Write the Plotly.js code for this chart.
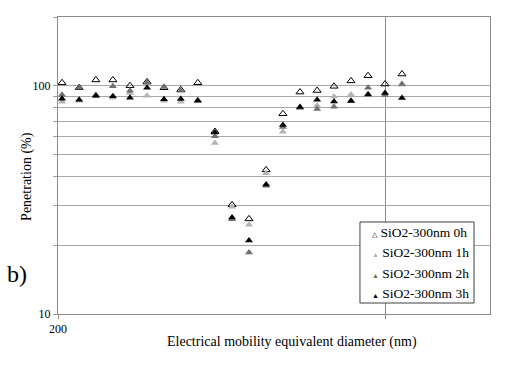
<!DOCTYPE html>
<html>
<head>
<meta charset="utf-8">
<script src="https://cdn.plot.ly/plotly-3.0.1.min.js"></script>
<style>html,body{margin:0;padding:0;background:#fff;}#chart{width:509px;height:371px;}</style>
</head>
<body>
<div id="chart"></div>
<script>
// Electrical mobility equivalent diameter (nm)
var diameters = [204, 222, 241, 262, 285, 310, 337, 366, 398, 433, 471, 512, 557, 605, 658, 716, 778, 846, 920, 1000, 1087];
// Penetration (%)
var pen0h = [103, 98, 106, 106, 100, 104, 98, 96, 103, 63, 30.1, 26.1, 42.8, 75.4, 93.8, 95.3, 99.4, 105, 110.6, 101.7, 112.5];
var pen1h = [85, 86, 90, 88.5, 93, 90.4, 86, 85, 86, 56.1, 29.5, 24.6, 41.4, 62.9, 80, 82, 89.8, 91.6, 92, 93, 101];
var pen2h = [91.3, 98, 91, 99.5, 95, 103, 98.8, 95, 86.5, 60, 26, 18.6, 36.5, 66, 80, 79, 80.8, 86, 98, 91, 101.7];
var pen3h = [87.7, 86.8, 90.4, 90, 88.6, 97.9, 87.2, 87.5, 86, 62.4, 26.5, 21, 36.9, 67.3, 80.6, 86.8, 85.3, 85.7, 91.6, 92.9, 88.4];
var seriesNames = ["SiO2-300nm 0h", "SiO2-300nm 1h", "SiO2-300nm 2h", "SiO2-300nm 3h"];
var yTickVals = [10, 20, 30, 40, 50, 60, 70, 80, 90, 100, 200];
var yTickText = ["10", "", "", "", "", "", "", "", "", "100", ""];
var xTickVals = [200, 1000];
var xTickText = ["200", ""];

var serif = "'Liberation Serif', serif";
var colors = ["#000000", "#b3b3b3", "#6f6f6f", "#000000"];
var symbols = ["triangle-up-open", "triangle-up", "triangle-up", "triangle-up"];
var glyphs = ["\u25B3", "\u25B2", "\u25B2", "\u25B2"];
var data = [pen0h, pen1h, pen2h, pen3h].map(function (vals, i) {
  return {
    x: diameters, y: vals, type: "scatter", mode: "markers", name: seriesNames[i],
    marker: {symbol: symbols[i], size: 7, color: colors[i], line: {width: i === 0 ? 1 : 0, color: colors[i]}}
  };
});

// legend box geometry (paper fractions)
var lgX0 = 0.699, lgX1 = 0.963, lgY0 = 0.037, lgY1 = 0.3098;
var lgTextX = 0.723, lgRowY = [0.276, 0.2064, 0.1369, 0.0697];

var annotations = [
  {text: "Electrical mobility equivalent diameter (nm)", xref: "paper", yref: "paper",
   x: 0.5417, y: -0.094, xanchor: "center", yanchor: "middle", showarrow: false,
   font: {family: serif, size: 14, color: "#000"}},
  {text: "Penetration (%)", xref: "paper", yref: "paper", textangle: -90,
   x: -0.0718, y: 0.465, xanchor: "center", yanchor: "middle", showarrow: false,
   font: {family: serif, size: 14, color: "#000"}},
  {text: "b)", xref: "paper", yref: "paper",
   x: -0.094, y: 0.135, xanchor: "center", yanchor: "middle", showarrow: false,
   font: {family: serif, size: 24, color: "#000"}}
];
seriesNames.forEach(function (nm, i) {
  annotations.push({
    text: '<span style="font-size:7px;color:' + colors[i] + '">' + glyphs[i] + '</span> ' + nm,
    xref: "paper", yref: "paper", x: lgTextX, y: lgRowY[i], xanchor: "left", yanchor: "middle",
    showarrow: false, font: {family: serif, size: 13.5, color: "#000"}
  });
});

var layout = {
  width: 509, height: 371,
  margin: {l: 58, r: 19, t: 17, b: 57},
  paper_bgcolor: "#ffffff", plot_bgcolor: "#ffffff",
  font: {family: serif, size: 12, color: "#000"},
  showlegend: false,
  xaxis: {
    type: "log", range: [Math.log10(200), 3.2244],
    tickvals: xTickVals, ticktext: xTickText,
    showgrid: true, gridcolor: "#8c8c8c", gridwidth: 1,
    showline: true, mirror: true, linecolor: "#8c8c8c", linewidth: 1,
    ticks: "outside", ticklen: 4, tickcolor: "#8c8c8c",
    tickfont: {family: serif, size: 12, color: "#000"},
    zeroline: false, fixedrange: true
  },
  yaxis: {
    type: "log", range: [1, Math.log10(200)],
    tickvals: yTickVals, ticktext: yTickText,
    showgrid: true, gridcolor: "#a9a9a9", gridwidth: 1,
    showline: true, mirror: true, linecolor: "#8c8c8c", linewidth: 1,
    ticks: "outside", ticklen: 4, tickcolor: "#a0a0a0",
    tickfont: {family: serif, size: 12, color: "#000"},
    zeroline: false, fixedrange: true
  },
  shapes: [
    {type: "rect", xref: "paper", yref: "paper", x0: lgX0, x1: lgX1, y0: lgY0, y1: lgY1,
     line: {color: "#404040", width: 1}, fillcolor: "#ffffff", layer: "above"}
  ],
  annotations: annotations
};

Plotly.newPlot("chart", data, layout, {displayModeBar: false, staticPlot: true});
</script>
</body>
</html>
